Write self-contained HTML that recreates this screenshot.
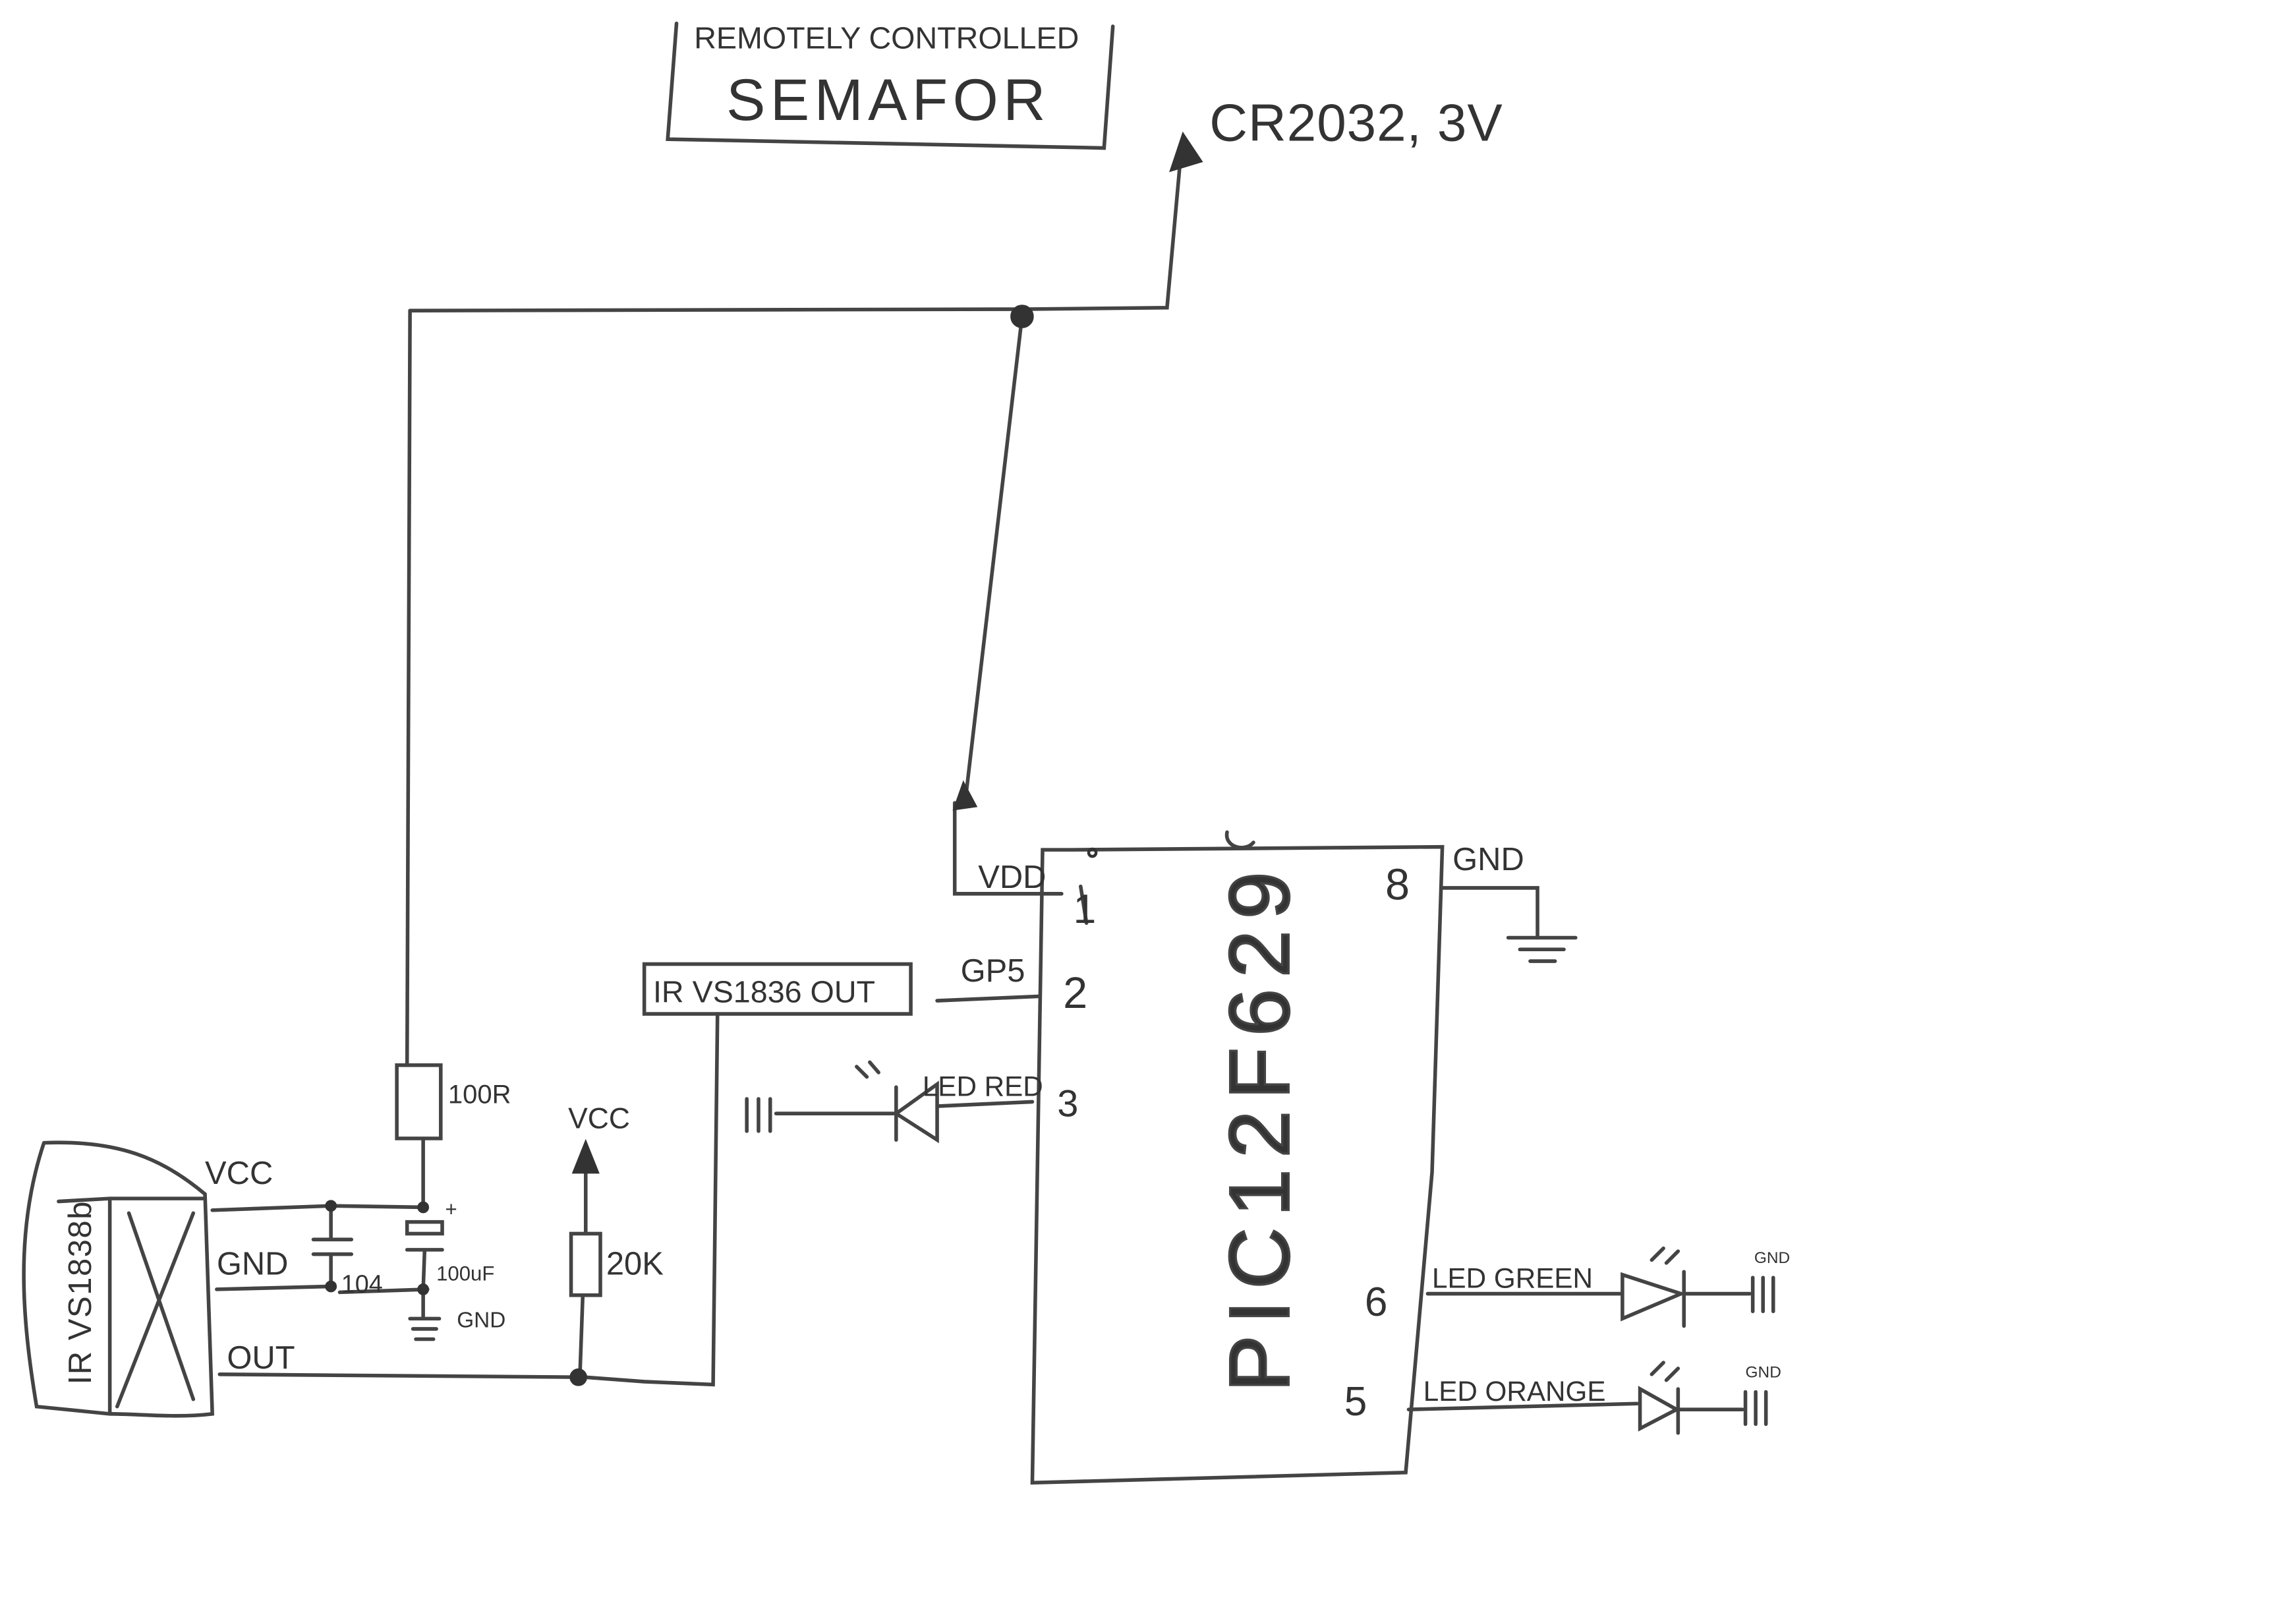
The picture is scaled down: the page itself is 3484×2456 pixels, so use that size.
<!DOCTYPE html>
<html><head><meta charset="utf-8"><style>
html,body{margin:0;padding:0;background:#fff;}
svg{display:block;}
text{font-family:"Liberation Sans",sans-serif;fill:#333;}
</style></head><body>
<svg width="3484" height="2456" viewBox="0 0 1568 1105" xmlns="http://www.w3.org/2000/svg" preserveAspectRatio="none">
<rect width="1568" height="1105" fill="#fff"/>
<g stroke="#444" stroke-width="2.5" fill="none" stroke-linecap="round">
<path d="M462,16 L456,95 L754,101 L760,18"/>
<path d="M280,212 L700,211 L797,210 L806,110"/>
<path d="M280,212 L278,727"/>
<rect x="271" y="727" width="30" height="50"/>
<path d="M289,777 L289,826"/>
<path d="M698,216 L660,540"/>
<path d="M652,548 L652,610 L725,610"/>
<path d="M732,580 L985,578 L978,800 L960,1005 L705,1012 L712,580 Z"/>
<path d="M738,605 L742,630"/>
<path d="M985,606 L1050,606 L1050,640"/>
<path d="M1030,640 L1076,640 M1038,648 L1068,648 M1045,656 L1062,656"/>
<path d="M640,683 L710,680"/>
<rect x="440" y="658" width="182" height="34"/>
<path d="M490,692 L487,945 L440,943 L400,940 L150,938"/>
<path d="M640,755 L705,752"/>
<path d="M640,740 L640,778 L612,760 Z"/>
<path d="M612,742 L612,778"/>
<path d="M530,760 L612,760"/>
<path d="M510,750 L510,772 M518,750 L518,772 M526,750 L526,772"/>
<path d="M592,735 L585,728 M600,732 L594,725"/>
<path d="M30,780 C80,778 110,790 140,815 L145,965 C120,968 95,965 75,965 L25,960 C15,900 10,840 30,780"/>
<path d="M40,820 L75,818 L140,818 M75,818 L75,965 M88,828 L132,955 M132,828 L80,960"/>
<path d="M145,826 L226,823 L290,824"/>
<path d="M148,880 L226,878 M232,882 L292,880"/>
<path d="M226,823 L226,845 M214,846 L240,846 M214,856 L240,856 M226,856 L226,878"/>
<rect x="278" y="834" width="24" height="8"/>
<path d="M278,853 L302,853 M290,853 L289,880 L289,900 M280,900 L300,900 M282,907 L298,907 M284,914 L296,914"/>
<path d="M400,800 L400,842"/>
<rect x="390" y="842" width="20" height="42"/>
<path d="M398,884 L396,940"/>
<path d="M975,883 L1108,883"/>
<path d="M1108,870 L1108,900 L1148,883 Z"/>
<path d="M1150,868 L1150,905 M1150,883 L1195,883"/>
<path d="M1197,872 L1197,895 M1204,872 L1204,895 M1211,872 L1211,895"/>
<path d="M1128,860 L1136,852 M1138,862 L1146,854"/>
<path d="M962,962 L1118,958"/>
<path d="M1120,948 L1120,975 L1145,962 Z"/>
<path d="M1146,948 L1146,978 M1146,962 L1190,962"/>
<path d="M1192,950 L1192,972 M1199,950 L1199,972 M1206,950 L1206,972"/>
<path d="M1128,938 L1136,930 M1138,942 L1146,934"/>
<path d="M838,568 C836,578 850,582 856,575"/>
</g>
<g fill="#333" stroke="#333" stroke-width="2">
<path d="M800,116 L808,92 L820,110 Z"/>
<circle cx="698" cy="216" r="7"/>
<path d="M652,552 L658,535 L666,550 Z"/>
<path d="M392,800 L400,780 L408,800 Z"/>
<circle cx="226" cy="823" r="3"/><circle cx="226" cy="878" r="3"/>
<circle cx="289" cy="824" r="3"/><circle cx="289" cy="880" r="3"/>
<circle cx="395" cy="940" r="5"/>
<circle cx="746" cy="582" r="2.5" fill="none"/>
</g>
<text x="474" y="33" font-size="21">REMOTELY CONTROLLED</text>
<text x="496" y="82" font-size="40" textLength="218">SEMAFOR</text>
<text x="826" y="96" font-size="36" textLength="200">CR2032, 3V</text>
<text x="668" y="606" font-size="22">VDD</text>
<text x="733" y="630" font-size="28">1</text>
<text x="656" y="670" font-size="22">GP5</text>
<text x="726" y="688" font-size="30">2</text>
<text x="446" y="684" font-size="21">IR VS1836 OUT</text>
<text x="630" y="748" font-size="19">LED RED</text>
<text x="722" y="762" font-size="26">3</text>
<text x="992" y="594" font-size="22">GND</text>
<text x="946" y="614" font-size="30">8</text>
<text x="932" y="898" font-size="28">6</text>
<text x="918" y="966" font-size="28">5</text>
<text x="978" y="879" font-size="19">LED GREEN</text>
<text x="972" y="956" font-size="19">LED ORANGE</text>
<text x="1198" y="862" font-size="11">GND</text>
<text x="1192" y="940" font-size="11">GND</text>
<text transform="translate(880,950) rotate(-90)" font-size="58" textLength="355" lengthAdjust="spacing" fill="none" stroke="#444" stroke-width="1.5">PIC12F629</text>
<text transform="translate(62,945) rotate(-90)" font-size="22" textLength="125">IR VS1838b</text>
<text x="140" y="808" font-size="22">VCC</text>
<text x="148" y="870" font-size="22">GND</text>
<text x="155" y="934" font-size="22">OUT</text>
<text x="233" y="882" font-size="17">104</text>
<text x="304" y="830" font-size="14">+</text>
<text x="298" y="874" font-size="14">100uF</text>
<text x="312" y="906" font-size="15">GND</text>
<text x="306" y="753" font-size="18">100R</text>
<text x="388" y="770" font-size="20">VCC</text>
<text x="414" y="870" font-size="22">20K</text>
</svg>
</body></html>
